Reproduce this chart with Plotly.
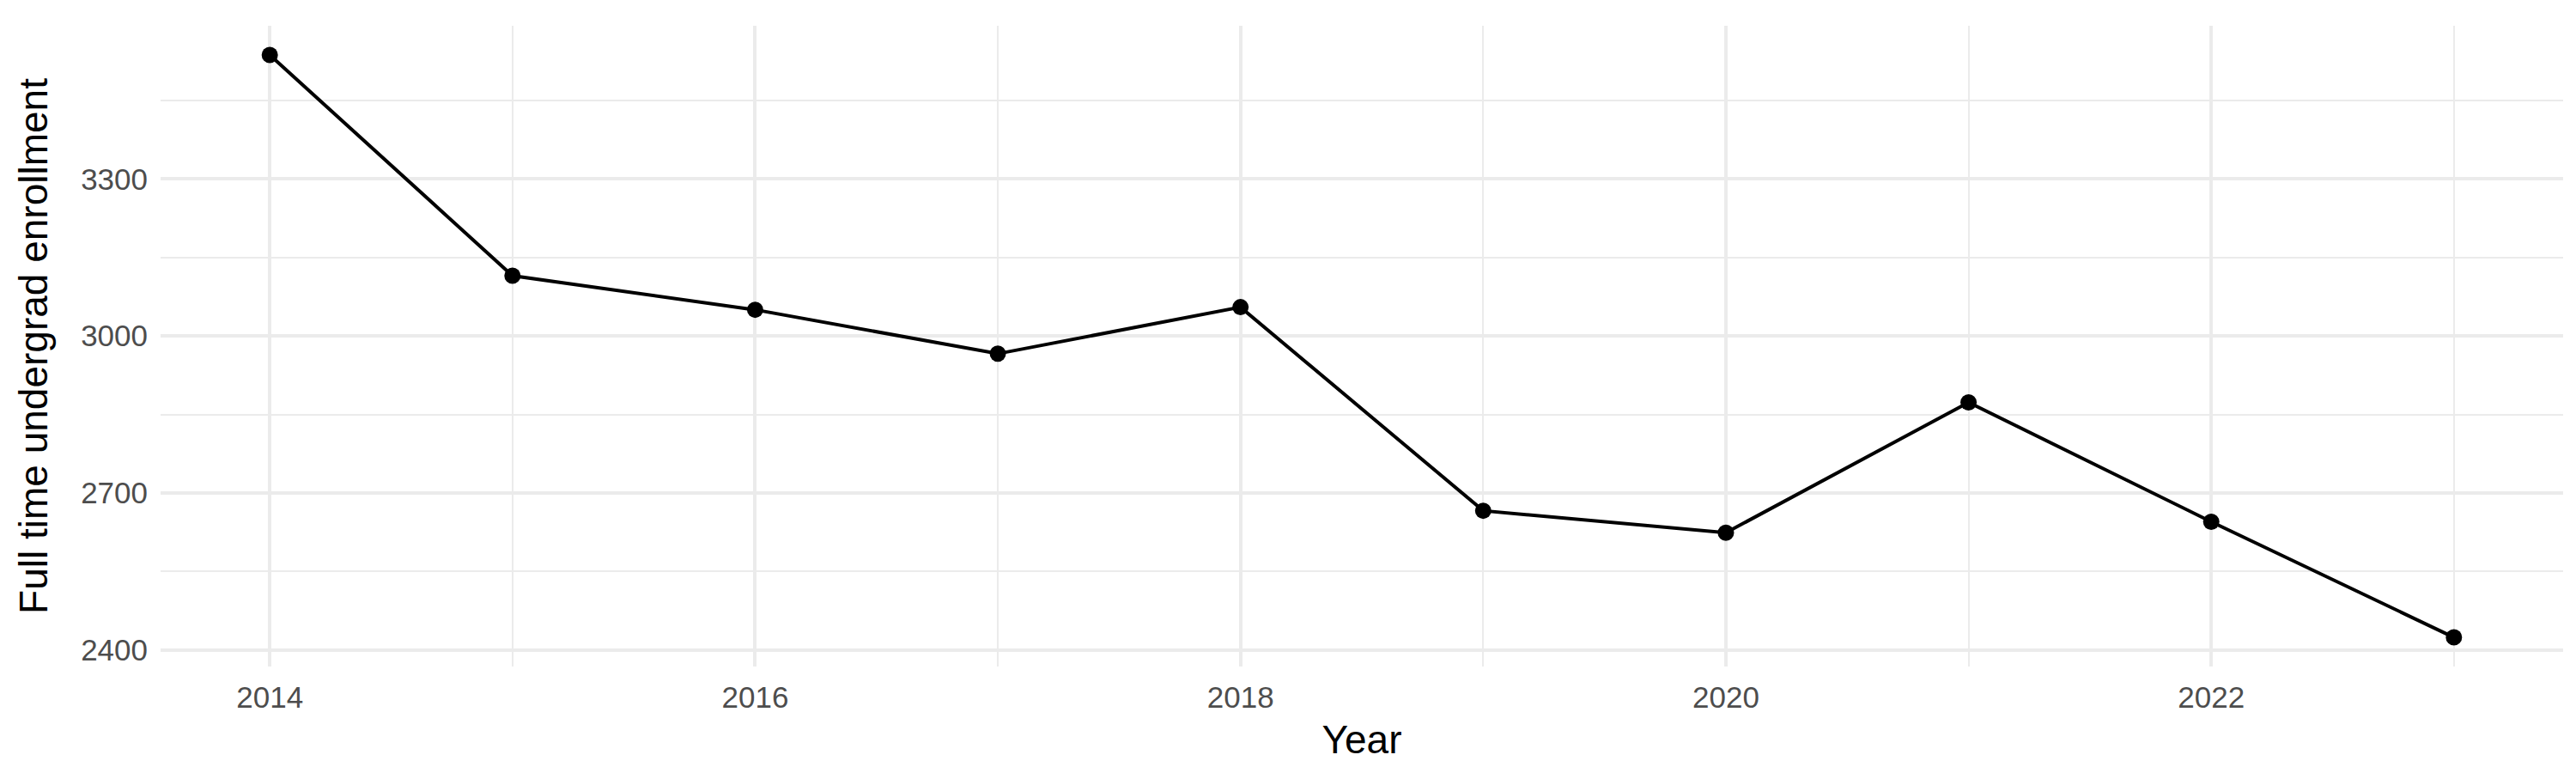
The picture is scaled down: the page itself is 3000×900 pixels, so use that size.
import plotly.graph_objects as go

# full time undergrad enrollment by year
years = [2014, 2015, 2016, 2017, 2018, 2019, 2020, 2021, 2022, 2023]
enrollment = [3537, 3115, 3050, 2966, 3055, 2666, 2624, 2873, 2645, 2424]

x_ticks = [2014, 2016, 2018, 2020, 2022]
y_ticks = [2400, 2700, 3000, 3300]

FONT = "Liberation Sans"
GRID = "#EBEBEB"

fig = go.Figure()
fig.add_trace(go.Scatter(
    x=years, y=enrollment, mode="lines+markers",
    line=dict(color="black", width=4),
    marker=dict(color="black", size=19),
    showlegend=False,
))

# ggplot-style 5% expansion on both axes
x_pad = (max(years) - min(years)) * 0.05
y_pad = (max(enrollment) - min(enrollment)) * 0.05

fig.update_layout(
    width=3000, height=900,
    margin=dict(l=179, r=23, t=22, b=132),
    paper_bgcolor="white", plot_bgcolor="white",
    font=dict(family=FONT, color="#4D4D4D", size=35),
)
fig.update_xaxes(
    range=[min(years) - x_pad, max(years) + x_pad],
    tickvals=x_ticks, ticktext=[str(v) for v in x_ticks],
    showgrid=True, gridcolor=GRID, gridwidth=4,
    minor=dict(tickvals=[2015, 2017, 2019, 2021, 2023], showgrid=True,
               gridcolor=GRID, gridwidth=2),
    zeroline=False, showline=False, ticks="",
    ticklabelstandoff=12,
    title=dict(text="Year", font=dict(family=FONT, size=46, color="black"),
               standoff=14),
)
fig.update_yaxes(
    range=[min(enrollment) - y_pad, max(enrollment) + y_pad],
    tickvals=y_ticks, ticktext=[str(v) for v in y_ticks],
    showgrid=True, gridcolor=GRID, gridwidth=4,
    minor=dict(tickvals=[2550, 2850, 3150, 3450], showgrid=True,
               gridcolor=GRID, gridwidth=2),
    zeroline=False, showline=False, ticks="",
    ticklabelstandoff=14,
    title=dict(text="Full time undergrad enrollment",
               font=dict(family=FONT, size=46, color="black"), standoff=24),
)

fig.write_html("out.html")
